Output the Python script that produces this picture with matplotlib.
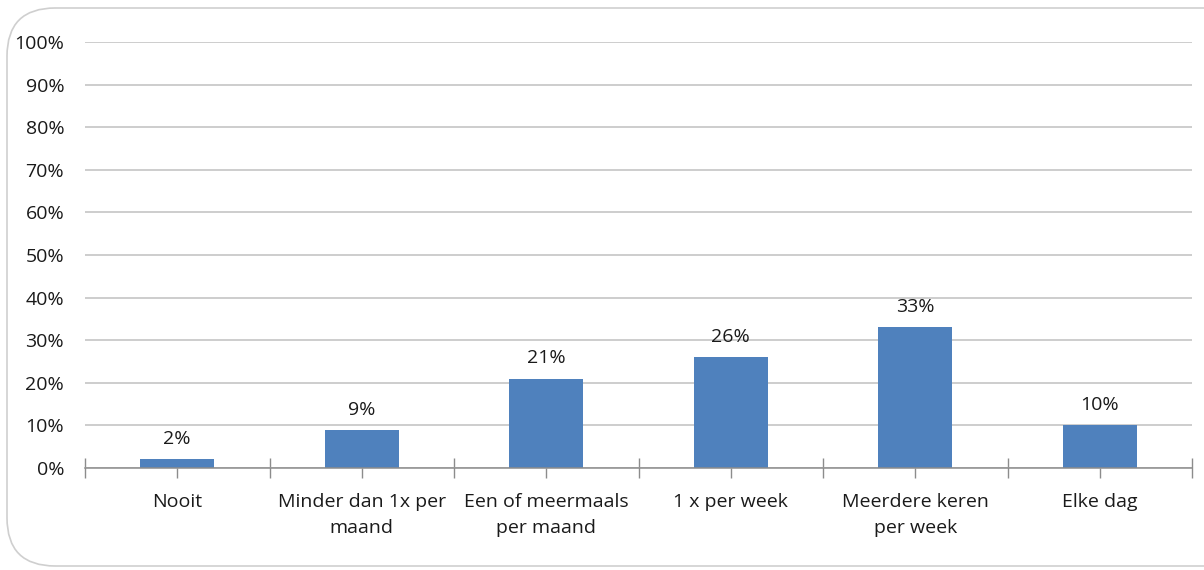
import matplotlib.pyplot as plt
from matplotlib.patches import FancyBboxPatch
from matplotlib.ticker import FixedLocator, PercentFormatter

# Categories and values (percent)
categories = ["Nooit", "Minder dan 1x per\nmaand", "Een of meermaals\nper maand",
              "1 x per week", "Meerdere keren\nper week", "Elke dag"]
values = [2, 9, 21, 26, 33, 10]
yticks = list(range(0, 101, 10))

plt.rcParams['font.family'] = ['Open Sans', 'DejaVu Sans']
fs = 14

fig = plt.figure(figsize=(12.04, 5.70), dpi=100)
ax = fig.add_axes([85 / 1204, 1 - 468 / 570, (1192 - 85) / 1204, (468 - 42) / 570])

# rounded chart border
border = FancyBboxPatch((7 / 1204, 4 / 570), 1.2, 1 - 12 / 570,
                        boxstyle="round,pad=0,rounding_size=0.04",
                        transform=fig.transFigure, facecolor='none',
                        edgecolor='#cfcfcf', linewidth=1.2,
                        mutation_aspect=1204 / 570)
fig.patches.append(border)

x = list(range(len(categories)))
bars = ax.bar(x, values, width=0.4, color='#4F81BD', zorder=3)

for b, v in zip(bars, values):
    ax.annotate(f"{v}%", (b.get_x() + b.get_width() / 2, v), xytext=(0, 8),
                textcoords='offset points', ha='center', va='bottom',
                fontsize=fs, color='#1a1a1a')

ax.set_xlim(-0.5, len(categories) - 0.5)
ax.set_ylim(0, 100)
ax.set_yticks(yticks)
ax.yaxis.set_major_formatter(PercentFormatter(decimals=0))
ax.grid(axis='y', color='#c0c0c0', linewidth=1.1, zorder=0)
ax.tick_params(axis='y', length=0, pad=15, labelsize=fs, labelcolor='#1a1a1a')

# boundary ticks crossing the axis, category labels at the centres
ax.xaxis.set_major_locator(FixedLocator([i - 0.5 for i in range(len(categories) + 1)]))
ax.xaxis.set_minor_locator(FixedLocator(x))
ax.set_xticklabels([])
ax.set_xticklabels(categories, minor=True)
ax.tick_params(axis='x', which='major', direction='inout', length=14,
               color='#8c8c8c', width=1)
ax.tick_params(axis='x', which='minor', direction='out', length=7,
               color='#8c8c8c', width=1, pad=11, labelsize=fs,
               labelcolor='#1a1a1a')
for lbl in ax.get_xticklabels(minor=True):
    lbl.set_linespacing(1.55)
    lbl.set_va('top')

for s in ['top', 'right', 'left']:
    ax.spines[s].set_visible(False)
ax.spines['bottom'].set_color('#8c8c8c')
ax.spines['bottom'].set_linewidth(1.1)
ax.spines['bottom'].set_zorder(4)

fig.savefig('out.png', dpi=100)
